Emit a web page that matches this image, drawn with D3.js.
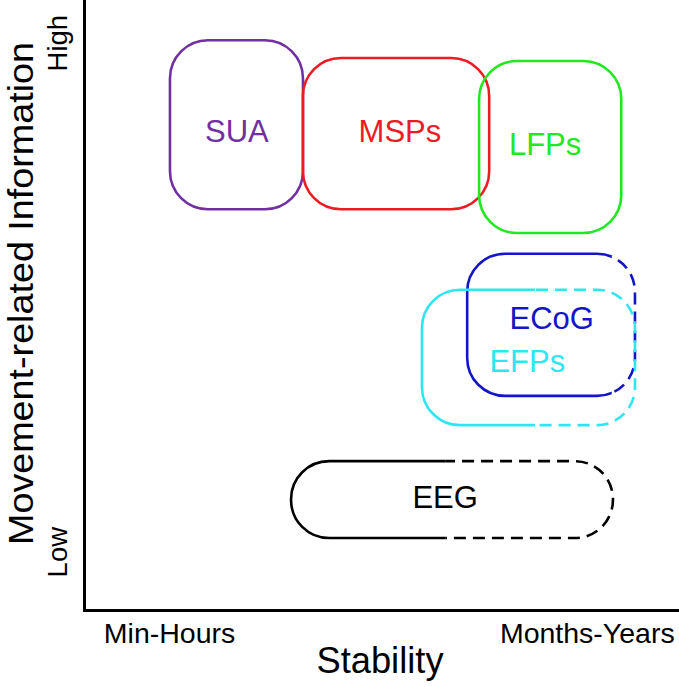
<!DOCTYPE html>
<html><head><meta charset="utf-8">
<script src="https://cdn.jsdelivr.net/npm/d3@7"></script>
<style>
body{margin:0;background:#fff}
svg{display:block}
text{font-family:"Liberation Sans",Arial,Helvetica,sans-serif}
</style>
</head><body>
<svg id="chart" width="679" height="687"></svg>
<script>
// ---- data (stability on x, movement-related information on y, both 0..100) ----
const regions      = ["SUA", "MSPs", "LFPs", "ECoG", "EFPs", "EEG"];
const stabilityMin = [14.45, 36.8, 66.4, 64.4, 56.8, 34.8];
const stabilityMax = [36.8, 68.1, 90.3, 92.6, 92.6, 88.9];
const infoMin      = [65.7, 65.7, 61.8, 35.1, 30.3, 11.8];
const infoMax      = [93.4, 90.5, 90.0, 58.4, 52.5, 24.4];
const dashedFrom   = [null, null, null, 88.7, 75.8, 60.7]; // uncertain (dashed) beyond this stability
const labelStab    = [25.7, 53.1, 77.5, 78.6, 74.5, 60.7];
const labelInfo    = [76.7, 76.7, 74.6, 46.1, 39.0, 16.7];
const regionColors = ["#7030a0", "#ec1c24", "#22e822", "#1414c8", "#2ee6f0", "#000000"];

const xTickValues = [14.3, 84.5];
const xTickLabels = ["Min-Hours", "Months-Years"];
const yTickValues = [9.56, 93.0];
const yTickLabels = ["Low", "High"];
const xTitle = "Stability";
const yTitle = "Movement-related Information";

// ---- layout ----
const W = 679, H = 687;
const mLeft = 84, mRight = 679, mTop = 0, mBottom = 610;
const svg = d3.select("#chart");

const x = d3.scaleLinear().domain([0, 100]).range([mLeft, mRight]);
const y = d3.scaleLinear().domain([0, 100]).range([mBottom, mTop]);

const defs = svg.append("defs");
const cornerR = 38;
const sw = 2.6;

regions.forEach((name, i) => {
  const x0 = x(stabilityMin[i]), x1 = x(stabilityMax[i]);
  const y0 = y(infoMax[i]), y1 = y(infoMin[i]);
  const r = Math.min(cornerR, (x1 - x0) / 2, (y1 - y0) / 2);
  const g = svg.append("g").attr("class", "region");
  const drawRect = (sel) => sel.append("rect")
    .attr("x", x0).attr("y", y0)
    .attr("width", x1 - x0).attr("height", y1 - y0)
    .attr("rx", r).attr("ry", r)
    .attr("fill", "none")
    .attr("stroke", regionColors[i])
    .attr("stroke-width", sw);
  if (dashedFrom[i] == null) {
    drawRect(g);
  } else {
    const split = x(dashedFrom[i]);
    defs.append("clipPath").attr("id", "solid" + i)
      .append("rect").attr("x", 0).attr("y", 0).attr("width", split).attr("height", H);
    defs.append("clipPath").attr("id", "dash" + i)
      .append("rect").attr("x", split).attr("y", 0).attr("width", W - split).attr("height", H);
    drawRect(g.append("g").attr("clip-path", `url(#solid${i})`));
    drawRect(g.append("g").attr("clip-path", `url(#dash${i})`))
      .attr("stroke-dasharray", "12,7");
  }
  g.append("text")
    .attr("x", x(labelStab[i]))
    .attr("y", y(labelInfo[i]))
    .attr("text-anchor", "middle")
    .attr("font-size", 31)
    .attr("fill", regionColors[i])
    .text(name);
});

// ---- axes ----
const xAxis = d3.axisBottom(x)
  .tickValues(xTickValues)
  .tickFormat((d, i) => xTickLabels[i])
  .tickSize(0).tickSizeOuter(0).tickPadding(13);
const gx = svg.append("g").attr("transform", `translate(0,${mBottom})`).call(xAxis);
gx.select(".domain").attr("stroke", "#000").attr("stroke-width", 3);
gx.selectAll("text").attr("font-size", 28.5).attr("fill", "#000")
  .style("font-family", '"Liberation Sans",Arial,sans-serif');

const yAxis = d3.axisLeft(y)
  .tickValues(yTickValues)
  .tickFormat((d, i) => yTickLabels[i])
  .tickSize(0).tickSizeOuter(0);
const gy = svg.append("g").attr("transform", `translate(${mLeft},0)`).call(yAxis);
gy.select(".domain").attr("stroke", "#000").attr("stroke-width", 3).attr("stroke-linecap", "square");
gy.selectAll(".tick text")
  .attr("transform", "rotate(-90)")
  .attr("text-anchor", "middle")
  .attr("x", 0).attr("y", -17).attr("dy", 0)
  .attr("font-size", 27.5).attr("fill", "#000")
  .style("font-family", '"Liberation Sans",Arial,sans-serif');

// ---- titles ----
svg.append("text")
  .attr("x", 380).attr("y", 673)
  .attr("text-anchor", "middle")
  .attr("font-size", 36.3)
  .text(xTitle);

svg.append("text")
  .attr("transform", `translate(32.5,${(545 + 42) / 2}) rotate(-90)`)
  .attr("text-anchor", "middle")
  .attr("font-size", 35)
  .attr("textLength", 503)
  .attr("lengthAdjust", "spacingAndGlyphs")
  .text(yTitle);
</script>
</body></html>
